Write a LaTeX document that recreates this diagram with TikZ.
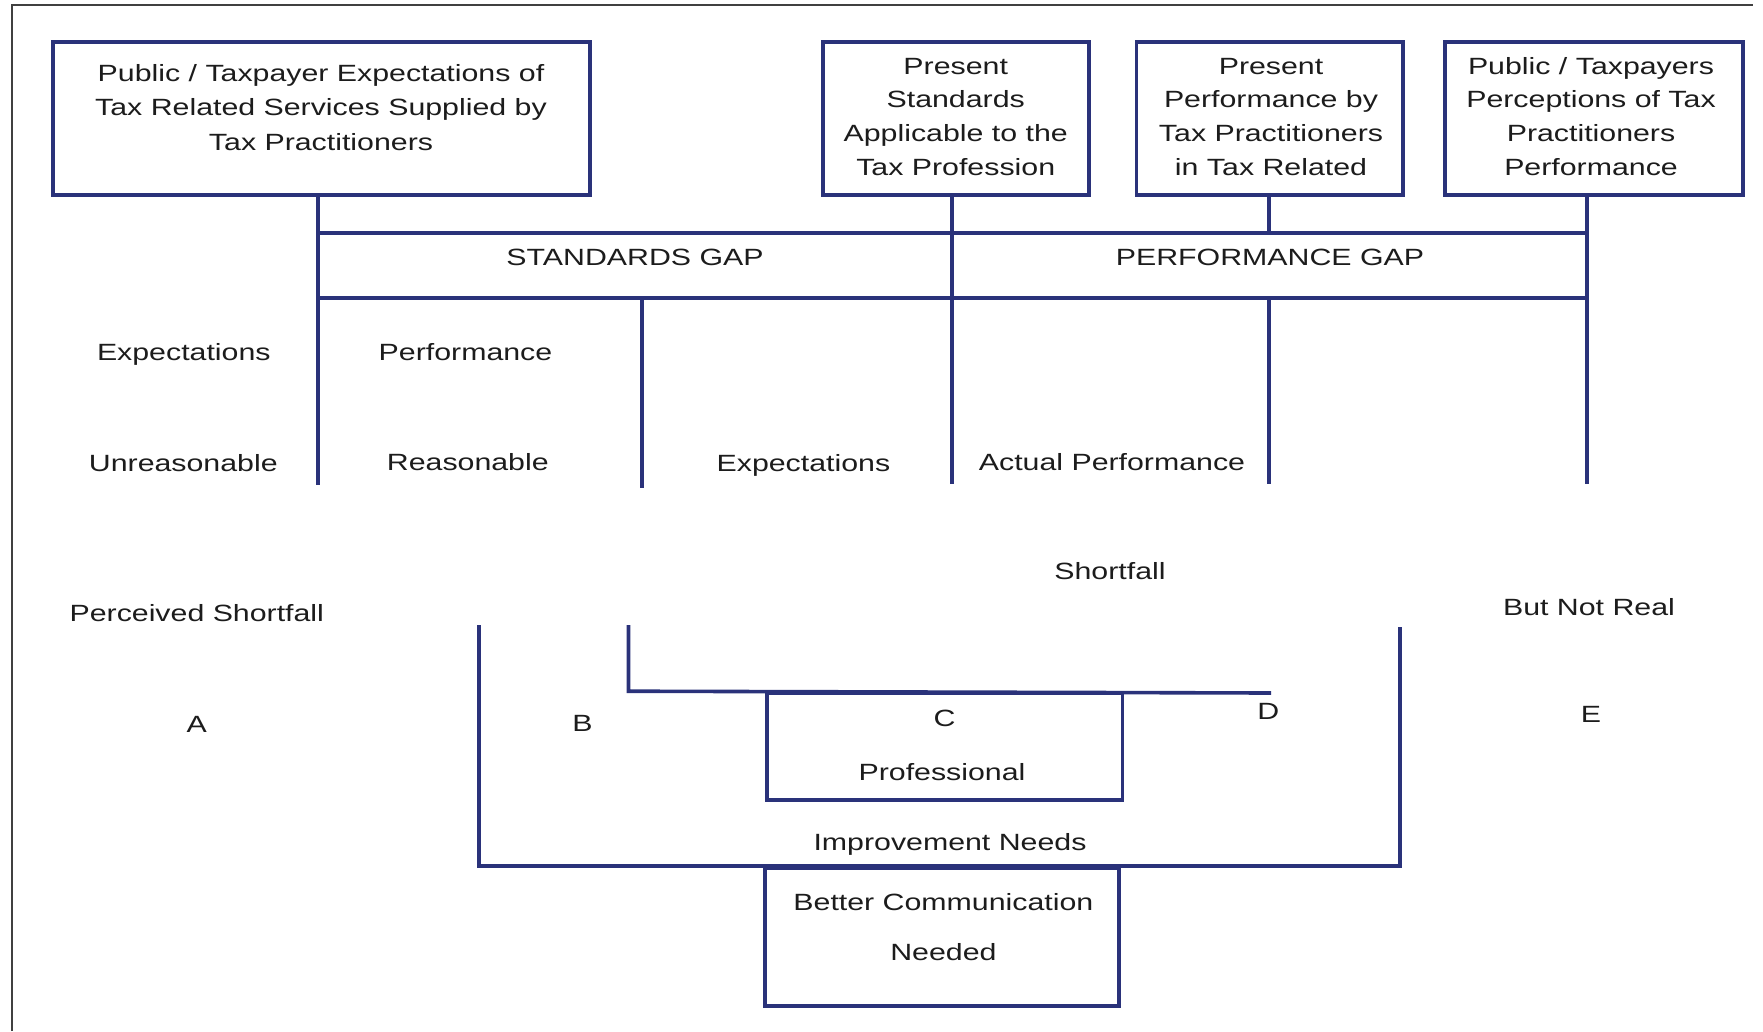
\documentclass[tikz,border=0pt]{standalone}
\usepackage{fontspec}
\setmainfont{Liberation Sans}[FakeStretch=1.29]
\definecolor{navy}{RGB}{42,50,122}
\definecolor{ink}{RGB}{28,28,28}
\begin{document}
\begin{tikzpicture}[x=1pt,y=-1pt,
  wire/.style={draw=navy,line width=3.6pt},
  box/.style={draw=navy,line width=3.6pt,rectangle,inner sep=0pt},
  lbl/.style={text=ink,font=\fontsize{23.5}{33.6}\selectfont,inner sep=0pt,anchor=base,align=center},
]
\useasboundingbox (0,0) rectangle (1763,1031);
% page frame
\draw[draw=black!75,line width=2pt] (12,1031) -- (12,5) -- (1753,5);

% top boxes
\node[box,minimum width=537.3pt,minimum height=153.3pt] (b1) at (321.35,118.35) {};
\node[box,minimum width=266pt,minimum height=153.3pt] (b2) at (955.7,118.35) {};
\node[box,minimum width=266.4pt,minimum height=153.3pt] (b3) at (1269.8,118.35) {};
\node[box,minimum width=298pt,minimum height=153.3pt] (b4) at (1594,118.35) {};

% multi-line texts sit on the baseline of their last line
\node[lbl,font=\fontsize{23.5}{34.2}\selectfont] (t1) at (321,150) {Public / Taxpayer Expectations of\\Tax Related Services Supplied by\\Tax Practitioners};
\node[lbl] (t2) at (955.7,175) {Present\\Standards\\Applicable to the\\Tax Profession};
\node[lbl] (t3) at (1271,175) {Present\\Performance by\\Tax Practitioners\\in Tax Related};
\node[lbl] (t4) at (1591,175) {Public / Taxpayers\\Perceptions of Tax\\Practitioners\\Performance};

% gap band
\node[box,minimum width=1269pt,minimum height=65pt] (band) at (952.5,265.5) {};
\node[lbl] (sg) at (635,265) {STANDARDS GAP};
\node[lbl] (pg) at (1270,265) {PERFORMANCE GAP};

% column ends
\coordinate (s1) at (318,485);
\coordinate (s2) at (952,484);
\coordinate (s3) at (1269,484);
\coordinate (s4) at (1587,484);
\coordinate (s5) at (642,488);

\draw[wire] (b1.south -| s1) -- (s1);
\draw[wire] (b2.south -| s2) -- (s2);
\draw[wire] (b3.south -| s3) -- (band.north -| s3);
\draw[wire] (band.south -| s3) -- (s3);
\draw[wire] (b4.south -| s4) -- (s4);
\draw[wire] (band.south -| s5) -- (s5);

% column texts
\node[lbl] (e1) at (183.8,360) {Expectations};
\node[lbl] (p1) at (465.5,360) {Performance};
\node[lbl] (u1t) at (183.3,471.7) {Unreasonable};
\node[lbl] (r1) at (467.8,470) {Reasonable};
\node[lbl] (e2) at (803.4,471.7) {Expectations};
\node[lbl] (ap) at (1112,470) {Actual Performance};
\node[lbl] (sf) at (1110,579) {Shortfall};
\node[lbl] (ps) at (196.8,621.7) {Perceived Shortfall};
\node[lbl] (bn) at (1589,615) {But Not Real};
\node[lbl] (la) at (196.8,732) {A};
\node[lbl] (lb) at (582.4,731.7) {B};
\node[lbl] (lc) at (944.5,726.7) {C};
\node[lbl] (ld) at (1268.3,719) {D};
\node[lbl] (le) at (1591,722) {E};

% lower boxes
\node[box,minimum width=355.6pt,minimum height=107pt] (pro) at (944.8,746.5) {};
\node[box,minimum width=354pt,minimum height=138pt] (comm) at (942,937) {};
\node[lbl] (prot) at (942,780) {Professional};
\node[lbl] (imp) at (950,850) {Improvement Needs};
\node[lbl] (commt) at (943.4,960) {Better Communication\\[16.4pt]Needed};

% brackets above the lower boxes
\coordinate (ua) at (479,625);
\coordinate (ub) at (1400,627);
\coordinate (la1) at (628.5,625);
\coordinate (la2) at (1271,693);
\draw[wire] (ua) -- (ua |- comm.north) -- (ub |- comm.north) -- (ub);
\draw[wire] (la1) -- (la1 |- pro.north) -- (la2);
\end{tikzpicture}
\end{document}
